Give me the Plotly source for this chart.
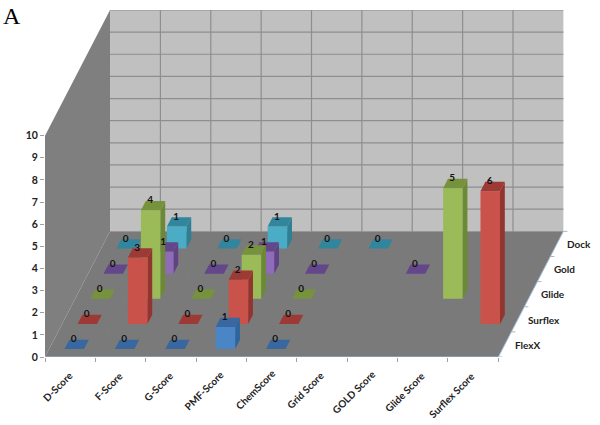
import plotly.graph_objects as go

scores = ["D-Score", "F-Score", "G-Score", "PMF-Score", "ChemScore",
          "Grid Score", "GOLD Score", "Glide Score", "Surflex Score"]
programs = ["FlexX", "Surflex", "Glide", "Gold", "Dock"]

flexx = [0, 0, 0, 1, 0, None, None, None, None]
surflex = [0, 3, 0, 2, 0, None, None, None, 6]
glide = [0, 4, 0, 2, 0, None, None, 5, None]
gold = [0, 1, 0, 1, 0, None, 0, None, None]
dock = [0, 1, 0, 1, 0, 0, None, None, None]

front_colors = ["#4a85c6", "#c9524a", "#9bbb59", "#8f6bb8", "#4bacc6"]
top_colors = ["#38689f", "#9e3a36", "#76923c", "#64468a", "#31859c"]
side_colors = ["#2f659e", "#943431", "#6c8a36", "#5f4385", "#2e7f94"]

# oblique projection used by the Excel chart: depth moves right and up
X_SHEAR = 1.291
Y_SHEAR = 5.676
BAR_W = 0.387
BAR_D = 0.074
PX_PER_CAT = 50.33
PLOT_H = 347
FONT = "Lato"
series = [flexx, surflex, glide, gold, dock]
n_cat = len(scores)
n_row = len(programs)


def proj(c, d, z=0):
    return c + d * X_SHEAR, z + d * Y_SHEAR


def poly(points):
    xs, ys = [], []
    for c, d, z in points:
        x, y = proj(c, d, z)
        xs.append(x)
        ys.append(y)
    xs.append(xs[0])
    ys.append(ys[0])
    xs.append(None)
    ys.append(None)
    return xs, ys


def fill_trace(xs, ys, color):
    return go.Scatter(x=xs, y=ys, mode="lines", fill="toself", fillcolor=color,
                      line=dict(width=0, color=color), hoverinfo="skip", showlegend=False)


def line_trace(segments, color, width):
    xs, ys = [], []
    for a, b in segments:
        xa, ya = proj(*a)
        xb, yb = proj(*b)
        xs += [xa, xb, None]
        ys += [ya, yb, None]
    return go.Scatter(x=xs, y=ys, mode="lines", line=dict(color=color, width=width),
                      hoverinfo="skip", showlegend=False, cliponaxis=False)


def text_len(name):
    # rough width in px, to hang rotated labels from their right end
    total = 0
    for ch in name:
        if ch.isupper():
            total += 6.5
        elif ch == "-":
            total += 3.5
        elif ch == " ":
            total += 2.5
        else:
            total += 4.5
    return total


fig = go.Figure()

# walls and floor
x, y = poly([(0, 0, 0), (0, 0, 10), (0, 1, 10), (0, 1, 0)])
fig.add_trace(fill_trace(x, y, "#7f7f7f"))
x, y = poly([(0, 1, 0), (0, 1, 10), (n_cat, 1, 10), (n_cat, 1, 0)])
fig.add_trace(fill_trace(x, y, "#c0c0c0"))
x, y = poly([(0, 0, 0), (n_cat, 0, 0), (n_cat, 1, 0), (0, 1, 0)])
fig.add_trace(fill_trace(x, y, "#7a7a7a"))

# gridlines
back = [((0, 1, z), (n_cat, 1, z)) for z in range(1, 11)]
back += [((c, 1, 0), (c, 1, 10)) for c in range(1, n_cat)]
fig.add_trace(line_trace(back, "#8e8e8e", 1.2))
faint = [((c, 0, 0), (c, 1, 0)) for c in range(1, n_cat)]
faint += [((0, 0, z), (0, 1, z)) for z in range(1, 10)]
fig.add_trace(line_trace(faint, "#7e7e7e", 0.5))

# bars, back row first so the front rows cover them
for i in reversed(range(n_row)):
    front_x, front_y, top_x, top_y, side_x, side_y = [], [], [], [], [], []
    d0 = (i + 0.5) / n_row - BAR_D / 2
    d1 = (i + 0.5) / n_row + BAR_D / 2
    for c, v in enumerate(series[i]):
        if v is None:
            continue
        c0 = c + 0.5 - BAR_W / 2
        c1 = c + 0.5 + BAR_W / 2
        a, b = poly([(c0, d0, v), (c1, d0, v), (c1, d1, v), (c0, d1, v)])
        top_x += a
        top_y += b
        if v > 0:
            a, b = poly([(c0, d0, 0), (c1, d0, 0), (c1, d0, v), (c0, d0, v)])
            front_x += a
            front_y += b
            a, b = poly([(c1, d0, 0), (c1, d1, 0), (c1, d1, v), (c1, d0, v)])
            side_x += a
            side_y += b
    fig.add_trace(fill_trace(side_x, side_y, side_colors[i]))
    fig.add_trace(fill_trace(front_x, front_y, front_colors[i]))
    fig.add_trace(fill_trace(top_x, top_y, top_colors[i]))

# axis lines along the floor edges
edges = [((0, 0, 0), (n_cat, 0, 0)), ((n_cat, 0, 0), (n_cat, 1, 0))]
fig.add_trace(line_trace(edges, "#9dbbd8", 1))
depth_ticks = [((n_cat, j / n_row, 0), (n_cat + 0.08, j / n_row, 0)) for j in range(n_row + 1)]
fig.add_trace(line_trace(depth_ticks, "#b5b5b5", 1))

# value labels sit on the back edge of each bar top
for i in range(n_row):
    lx, ly, lt = [], [], []
    d_mid = (i + 0.5) / n_row
    for c, v in enumerate(series[i]):
        if v is None:
            continue
        px, _ = proj(c + 0.44, d_mid)
        _, py = proj(0, d_mid + BAR_D / 2, v)
        lx.append(px)
        ly.append(py)
        lt.append(str(v))
    fig.add_trace(go.Scatter(x=lx, y=ly, text=lt, mode="text", textposition="middle center",
                             textfont=dict(family=FONT, size=10, color="#111111", weight=700),
                             hoverinfo="skip", showlegend=False, cliponaxis=False))

# depth axis labels
rx, ry = [], []
for i in range(n_row):
    a, b = proj(n_cat + 0.2, (i + 0.5) / n_row, -0.08)
    rx.append(a)
    ry.append(b)
fig.add_trace(go.Scatter(x=rx, y=ry, text=programs, mode="text", textposition="middle right",
                         textfont=dict(family=FONT, size=10, color="#222222", weight=700),
                         hoverinfo="skip", showlegend=False, cliponaxis=False))

# category labels: rotated about their centre, so shift each by half its length
notes = []
for c, name in enumerate(scores):
    half = text_len(name) / 2 * 0.707
    notes.append(dict(text=name, x=c + 0.5 - half / PX_PER_CAT, y=-(16.5 + half) / PLOT_H,
                      xref="x", yref="paper", xanchor="center", yanchor="middle",
                      textangle=-45, showarrow=False, borderpad=0,
                      font=dict(family=FONT, size=10, weight=700, color="#222222")))
notes.append(dict(text="A", xref="paper", yref="paper", x=-0.081, y=1.025, xanchor="left", yanchor="top",
                  showarrow=False, font=dict(family="Liberation Serif", size=24, color="black")))

fig.update_layout(
    width=600, height=425,
    margin=dict(l=45, r=11.4, t=10, b=68, autoexpand=False),
    paper_bgcolor="white", plot_bgcolor="white",
    font=dict(family=FONT, color="#222222"),
    xaxis=dict(range=[0, 10.8], showticklabels=False, ticks="", showgrid=False, zeroline=False, showline=False,
               automargin=False,
               minor=dict(tickvals=list(range(n_cat + 1)), ticks="outside", ticklen=4,
                          tickcolor="#a0a0a0", showgrid=False)),
    yaxis=dict(range=[0, 10 + Y_SHEAR], tickvals=list(range(11)), ticks="outside", ticklen=4,
               tickcolor="#a0a0a0", showgrid=False, zeroline=False, showline=False, automargin=False,
               tickfont=dict(family=FONT, size=10.5, weight=700)),
    annotations=notes,
)

# the page's default body margin would shift the chart by 8px
fig.write_html("out.html", post_script="document.body.style.margin='0';",
               config={"displayModeBar": False})
